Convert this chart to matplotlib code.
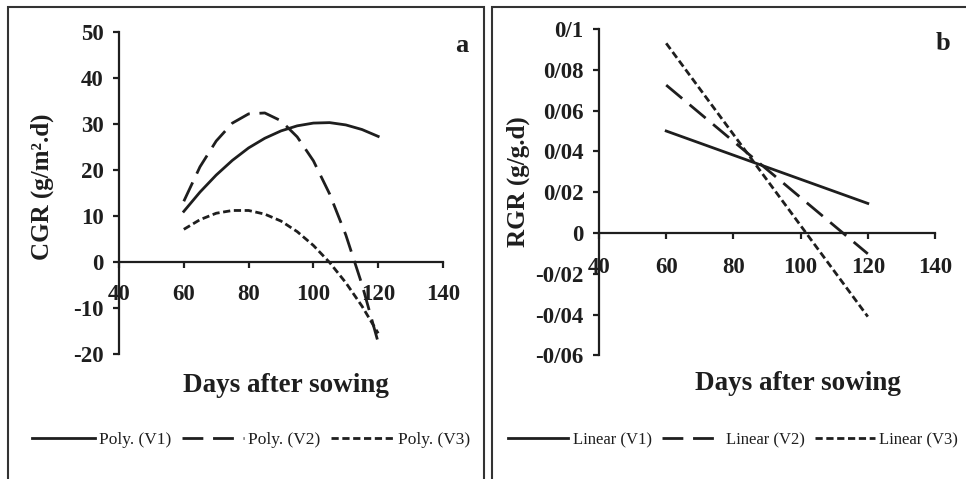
import matplotlib
matplotlib.use('Agg')
import matplotlib.pyplot as plt
from matplotlib.patches import Rectangle

# ── Data ───────────────────────────────────────────────────────────────────────
# (a) CGR polynomial trendlines, read every 5 days
cgr_days = [60, 65, 70, 75, 80, 85, 90, 95, 100, 105, 110, 115, 120]
cgr_v1 = [11.0, 15.2, 18.9, 22.1, 24.8, 26.9, 28.5, 29.6, 30.2, 30.3, 29.8, 28.8, 27.3]
cgr_v2 = [13.2, 20.7, 26.3, 30.2, 32.2, 32.4, 30.7, 27.2, 22.0, 14.8, 5.9, -4.9, -17.5]
cgr_v3 = [7.1, 9.2, 10.6, 11.2, 11.2, 10.4, 8.9, 6.6, 3.6, -0.1, -4.5, -9.6, -15.5]

# (b) RGR linear trendlines
rgr_days = [60, 120]
rgr_v1 = [0.050, 0.0145]
rgr_v2 = [0.0725, -0.0102]
rgr_v3 = [0.093, -0.041]

x_ticks = [40, 60, 80, 100, 120, 140]
cgr_ticks = [-20, -10, 0, 10, 20, 30, 40, 50]
rgr_ticks = [-0.06, -0.04, -0.02, 0, 0.02, 0.04, 0.06, 0.08, 0.1]
rgr_tick_labels = ['-0/06', '-0/04', '-0/02', '0', '0/02', '0/04', '0/06', '0/08', '0/1']

# ── Styling ────────────────────────────────────────────────────────────────────
W, H = 966, 479
INK = '#1e1e1e'
plt.rcParams['font.family'] = 'Liberation Serif'
plt.rcParams['axes.unicode_minus'] = False

styles = [
    dict(linestyle='-'),
    dict(linestyle=(0, (7.5, 3.5))),
    dict(linestyle=(0, (2.6, 1.3))),
]

fig = plt.figure(figsize=(W / 100, H / 100), dpi=100)


def fx(px):
    return px / W


def fy(py):
    return 1 - py / H


def panel(x0, x1, y_top, y_bot):
    """Axes placed by pixel corners (left, right, top, bottom)."""
    return fig.add_axes([fx(x0), fy(y_bot), fx(x1 - x0), (y_bot - y_top) / H])


def style_axes(ax, xpad):
    ax.spines['top'].set_visible(False)
    ax.spines['right'].set_visible(False)
    ax.spines['bottom'].set_position(('data', 0))
    for s in ('left', 'bottom'):
        ax.spines[s].set_linewidth(1.6)
        ax.spines[s].set_color(INK)
    ax.tick_params(axis='both', colors=INK, width=1.6, length=4, direction='out')
    ax.tick_params(axis='x', pad=xpad)
    ax.tick_params(axis='y', pad=7)
    for lab in ax.get_xticklabels() + ax.get_yticklabels():
        lab.set_fontweight('bold')
        lab.set_fontsize(16.5)
        lab.set_color(INK)
    ax.patch.set_alpha(0)


def add_legend(handles, cx, size):
    fig.legend(handles=handles, loc='center', bbox_to_anchor=(fx(cx), fy(440)),
               ncol=3, frameon=False, fontsize=size, handlelength=3.6,
               handletextpad=0.25, columnspacing=0.6, labelcolor=INK)


# ── Panel frames ───────────────────────────────────────────────────────────────
for x0, x1 in [(8, 484), (492, 980)]:
    fig.patches.append(Rectangle((fx(x0), fy(495)), fx(x1 - x0), (495 - 7) / H,
                                 transform=fig.transFigure, fill=False,
                                 edgecolor='#333333', linewidth=1.5))

# ── (a) CGR ────────────────────────────────────────────────────────────────────
ax1 = panel(119, 443, 32, 354)
labels_a = ['Poly. (V1)', 'Poly. (V2)', 'Poly. (V3)']
handles_a = []
for vals, st, lab in zip([cgr_v1, cgr_v2, cgr_v3], styles, labels_a):
    h, = ax1.plot(cgr_days, vals, color=INK, lw=2.0, label=lab, **st)
    handles_a.append(h)
ax1.set_xlim(40, 140)
ax1.set_ylim(-20, 50)
ax1.set_xticks(x_ticks)
ax1.set_yticks(cgr_ticks)
style_axes(ax1, xpad=12)

fig.text(fx(42), fy(187), 'CGR (g/m².d)', rotation=90, ha='center', va='center',
         fontsize=18, fontweight='bold', color=INK)
fig.text(fx(286), fy(385), 'Days after sowing', ha='center', va='center',
         fontsize=19.5, fontweight='bold', color=INK)
fig.text(fx(462), fy(45), 'a', ha='center', va='center',
         fontsize=19, fontweight='bold', color=INK)
add_legend(handles_a, 251, 12.5)

# ── (b) RGR ────────────────────────────────────────────────────────────────────
ax2 = panel(599, 935, 29, 355.4)
labels_b = ['Linear (V1)', 'Linear (V2)', 'Linear (V3)']
handles_b = []
for vals, st, lab in zip([rgr_v1, rgr_v2, rgr_v3], styles, labels_b):
    h, = ax2.plot(rgr_days, vals, color=INK, lw=2.0, label=lab, **st)
    handles_b.append(h)
ax2.set_xlim(40, 140)
ax2.set_ylim(-0.06, 0.1)
ax2.set_xticks(x_ticks)
ax2.set_yticks(rgr_ticks)
ax2.set_yticklabels(rgr_tick_labels)
style_axes(ax2, xpad=13)

fig.text(fx(518), fy(182), 'RGR (g/g.d)', rotation=90, ha='center', va='center',
         fontsize=18, fontweight='bold', color=INK)
fig.text(fx(798), fy(383), 'Days after sowing', ha='center', va='center',
         fontsize=19.5, fontweight='bold', color=INK)
fig.text(fx(943), fy(43), 'b', ha='center', va='center',
         fontsize=19, fontweight='bold', color=INK)
add_legend(handles_b, 733, 12)

fig.savefig('out.png', dpi=100)
